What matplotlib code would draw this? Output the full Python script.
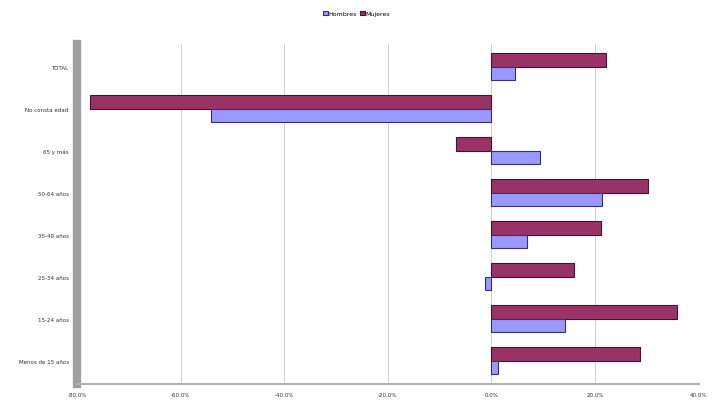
import numpy as np
import matplotlib.pyplot as plt

categorias = ["TOTAL", "No consta edad", "65 y más", "50-64 años", "35-49 años",
              "25-34 años", "15-24 años", "Menos de 15 años"]
hombres = [4.5, -54.2, 9.4, 21.4, 6.9, -1.3, 14.1, 1.3]
mujeres = [22.1, -77.5, -6.9, 30.2, 21.2, 15.9, 35.8, 28.7]
ticks = [-80, -60, -40, -20, 0, 20, 40]

fig = plt.figure(figsize=(7.13, 4.06), dpi=100)
ax = fig.add_axes([0.108, 0.052, 0.872, 0.838])

y = np.arange(len(categorias))[::-1].astype(float)
h = 0.32
ax.barh(y + h / 2, mujeres, height=h, color="#993366", edgecolor="#4a1030", linewidth=0.8,
        label="Mujeres", zorder=3)
ax.barh(y - h / 2, hombres, height=h, color="#9999ff", edgecolor="#33336a", linewidth=0.8,
        label="Hombres", zorder=3)

ax.set_xlim(-80, 40)
ax.set_ylim(-0.55, len(categorias) - 0.45)
ax.set_xticks(ticks)
ax.set_xticklabels([f"{t:.1f}%" for t in ticks], fontsize=4, color="#333333")
ax.set_yticks(y)
ax.set_yticklabels(categorias, fontsize=4, color="#333333")
ax.tick_params(length=0, pad=6)
ax.grid(axis="x", color="#d0d0d0", linewidth=0.7, zorder=0)
for s in ["top", "right"]:
    ax.spines[s].set_visible(False)
ax.spines["left"].set_color("#a0a0a0")
ax.spines["left"].set_linewidth(6)
ax.spines["bottom"].set_color("#b0b0b0")
ax.spines["bottom"].set_linewidth(1.5)

handles, labels = ax.get_legend_handles_labels()
fig.legend(handles[::-1], labels[::-1], loc="upper center", bbox_to_anchor=(0.5, 0.985),
           ncol=2, fontsize=4.5, frameon=False, handlelength=0.8, handleheight=0.8,
           columnspacing=0.4, handletextpad=0.2)

fig.savefig("out.png", dpi=100, facecolor="white")
